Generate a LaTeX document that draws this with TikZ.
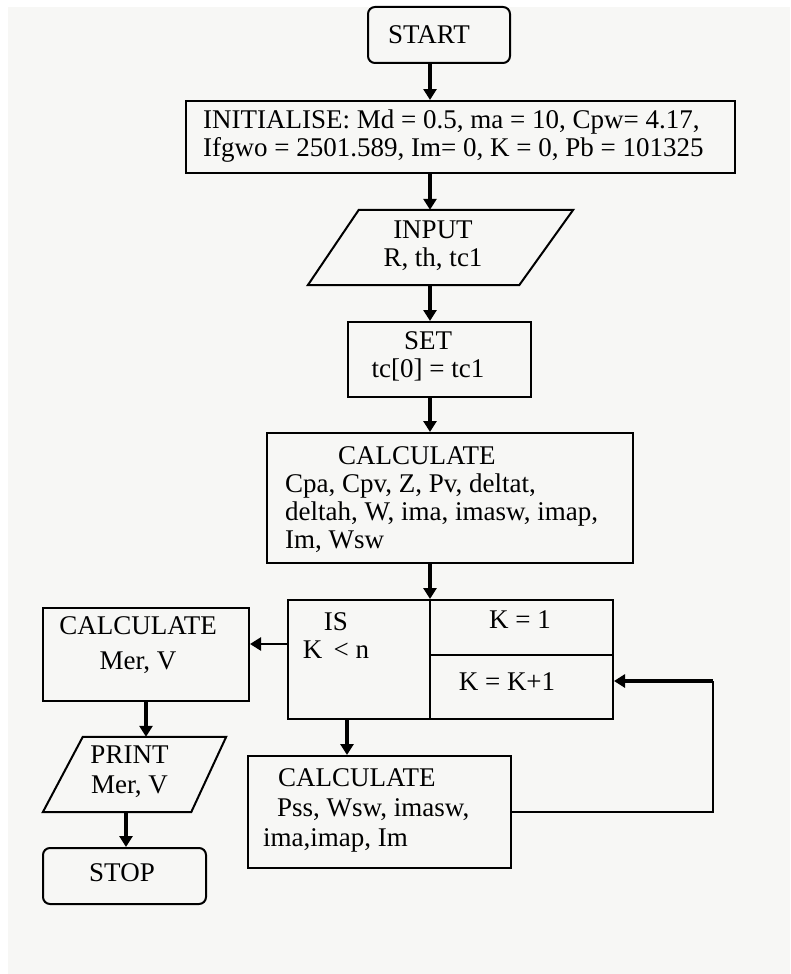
\documentclass[tikz,border=0pt]{standalone}
\usepackage{fontspec}
\setmainfont{Liberation Serif}
\usetikzlibrary{arrows.meta}
\definecolor{bg}{HTML}{F7F7F5}
\begin{document}
\begin{tikzpicture}[x=1pt,y=-1pt,
  box/.style={draw=black,line width=2pt,inner sep=0pt},
  boxr/.style={box,rounded corners=7pt},
  txt/.style={inner sep=0pt,font=\fontsize{27}{28}\selectfont},
  flow/.style={line width=3.5pt,-{Triangle[width=13pt,length=11pt]}},
  flowthin/.style={line width=2.5pt,-{Triangle[width=13pt,length=11pt]}},
  loopline/.style={line width=2.5pt},
]
\fill[white] (0,0) rectangle (790,974);
\fill[bg] (8,7) rectangle (790,974);
\useasboundingbox (0,0) rectangle (790,974);

\coordinate (spine) at (430,0);
\coordinate (c9) at (347,0);
\coordinate (c8) at (126,0);
\coordinate (lp) at (713,0);

% boxes
\node[boxr,minimum width=142pt,minimum height=56pt] (start) at (439,35) {};
\node[box,minimum width=549pt,minimum height=72pt] (init) at (460.5,137) {};
\node[minimum width=265pt,minimum height=75pt,inner sep=0pt] (input) at (440.5,247.5) {};
\draw[line width=2pt,line join=miter] ([xshift=51pt]input.north west) -- (input.north east)
  -- ([xshift=-54pt]input.south east) -- (input.south west) -- cycle;
\node[box,minimum width=183pt,minimum height=75pt] (set) at (439.5,359.5) {};
\node[box,minimum width=366pt,minimum height=130pt] (calc) at (450,498) {};
\node[box,minimum width=325pt,minimum height=119pt] (dec) at (450.5,659.5) {};
\draw[line width=2pt] (spine |- dec.north) -- (spine |- dec.south);
\coordinate (dh) at ([yshift=-56pt]dec.north east);
\draw[line width=2pt] (spine |- dh) -- (dh);
\node[box,minimum width=206pt,minimum height=93pt] (calcmv) at (146,654.5) {};
\node[minimum width=183pt,minimum height=75pt,inner sep=0pt] (print) at (134.5,774.5) {};
\draw[line width=2pt,line join=miter] ([xshift=40pt]print.north west) -- (print.north east)
  -- ([xshift=-35pt]print.south east) -- (print.south west) -- cycle;
\node[boxr,minimum width=163pt,minimum height=56pt] (stop) at (124.5,876) {};
\node[box,minimum width=263pt,minimum height=112pt] (calc2) at (379.5,812) {};

% texts
\node[txt] (tstart) at (429,35) {START};
\node[txt,anchor=west,align=left] (tinit) at (203,136)
  {INITIALISE: Md = 0.5, ma = 10, Cpw= 4.17,\\Ifgwo = 2501.589, Im= 0, K = 0, Pb = 101325};
\node[txt,align=center] (tinput) at (433,246) {INPUT\\R, th, tc1};
\node[txt,align=center] (tset) at (428,356) {SET\\tc[0] = tc1};
\node[txt,anchor=north west,align=left] (tcalc) at (285,446)
  {\hspace*{53pt}CALCULATE\\Cpa, Cpv, Z, Pv, deltat,\\deltah, W, ima, imasw, imap,\\Im, Wsw};
\node[txt,align=center] (tis) at (336,636) {IS\\K \,< n};
\node[txt] (tk1) at (520,620) {K = 1};
\node[txt] (tkk) at (507,682) {K = K+1};
\node[txt,align=center] (tcmv) at (138,645) {CALCULATE\\[7pt]Mer, V};
\node[txt,align=center] (tprint) at (129.5,772) {PRINT\\[2pt]Mer, V};
\node[txt] (tstop) at (122,873) {STOP};
\node[txt,anchor=north west,align=left,font=\fontsize{27}{30}\selectfont] (tcalc2) at (263,768)
  {\hspace*{15pt}CALCULATE\\\hspace*{14pt}Pss, Wsw, imasw,\\ima,imap, Im};

% connectors
\draw[flow] (start.south -| spine) -- (init.north -| spine);
\draw[flow] (init.south -| spine) -- (input.north -| spine);
\draw[flow] (input.south -| spine) -- (set.north -| spine);
\draw[flow] (set.south -| spine) -- (calc.north -| spine);
\draw[flow] (calc.south -| spine) -- (dec.north -| spine);
\coordinate (d6) at ([yshift=-45pt]dec.north west);
\draw[flowthin] (d6) -- (d6 -| calcmv.east);
\draw[flow] (calcmv.south) -- (print.north -| calcmv.south);
\draw[flow] (print.south -| c8) -- (stop.north -| c8);
\draw[flow] (dec.south -| c9) -- (calc2.north -| c9);
\coordinate (kk) at ([yshift=-82pt]dec.north east);
\draw[loopline] (calc2.east) -- (calc2.east -| lp) -- (kk -| lp);
\draw[flow] (kk -| lp) -- (kk);
\end{tikzpicture}
\end{document}
